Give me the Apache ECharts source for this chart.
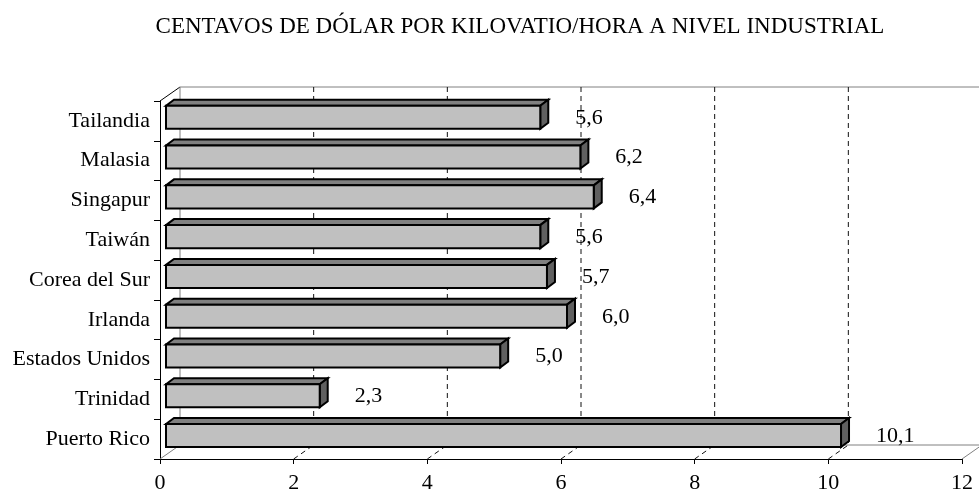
<!DOCTYPE html>
<html>
<head>
<meta charset="utf-8">
<title>Centavos de dólar por kilovatio/hora a nivel industrial</title>
<script src="https://cdn.jsdelivr.net/npm/echarts@6/dist/echarts.min.js"></script>
<style>html,body{margin:0;padding:0;background:#fff;}</style>
</head>
<body>
<div id="main" style="width:979px;height:493px;"></div>
<script>
// datos
var paises = ['Tailandia', 'Malasia', 'Singapur', 'Taiwán', 'Corea del Sur', 'Irlanda', 'Estados Unidos', 'Trinidad', 'Puerto Rico'];
var centavos = [5.6, 6.2, 6.4, 5.6, 5.7, 6.0, 5.0, 2.3, 10.1];
var ticksX = [0, 2, 4, 6, 8, 10, 12];

var FONT = '"Liberation Serif", "Times New Roman", serif';
var PX = 20, PY = -14;          // profundidad de paredes / suelo
var BX = 6, BDX = 8, BDY = -6;  // desplazamiento y fondo de las barras
var GRIS = '#808080';

function fmt(v) { return v.toFixed(1).replace('.', ','); }

function linea(x1, y1, x2, y2, color, dash) {
    return {
        type: 'line',
        shape: { x1: x1, y1: y1, x2: x2, y2: y2 },
        style: { stroke: color, lineWidth: 1, lineDash: dash || null }
    };
}

// paredes, suelo y lineas de division
function renderPared(params, api) {
    var cs = params.coordSys;
    var v = api.value(0);
    var x = api.coord([v, 0])[0];
    var top = cs.y, bot = cs.y + cs.height;
    var xMax = api.coord([ticksX[ticksX.length - 1], 0])[0];
    var hijos = [];
    if (v === ticksX[0]) {
        hijos.push(linea(x, top, x + PX, top + PY, '#000'));
        hijos.push(linea(x + PX, top + PY, x + PX, bot + PY, GRIS));
        hijos.push(linea(x + PX, top + PY, xMax + PX + 40, top + PY, GRIS));
        hijos.push(linea(x, bot, x + PX, bot + PY, GRIS));
        hijos.push(linea(x + PX, bot + PY, xMax + PX, bot + PY, GRIS));
    } else if (v === ticksX[ticksX.length - 1]) {
        hijos.push(linea(x, bot, x + PX, bot + PY, GRIS));
    } else {
        hijos.push(linea(x + PX, top + PY, x + PX, bot + PY, '#111', [5, 4]));
        hijos.push(linea(x, bot, x + PX, bot + PY, '#111', [5, 4]));
    }
    return { type: 'group', children: hijos };
}

// barras en 3D
function renderBarra(params, api) {
    var v = api.value(0), c = api.value(1);
    var p0 = api.coord([0, c]), p1 = api.coord([v, c]);
    var banda = api.size([0, 1])[1];
    var x0 = p0[0] + BX, x1 = p1[0] + BX;
    var yc = p0[1];
    var t = yc - banda * 0.38, b = yc + banda * 0.2;
    var borde = { stroke: '#000', lineWidth: 2, lineJoin: 'miter' };
    return {
        type: 'group',
        children: [
            { type: 'polygon', shape: { points: [[x0, t], [x0 + BDX, t + BDY], [x1 + BDX, t + BDY], [x1, t]] },
              style: Object.assign({ fill: '#808080' }, borde) },
            { type: 'polygon', shape: { points: [[x1, t], [x1 + BDX, t + BDY], [x1 + BDX, b + BDY], [x1, b]] },
              style: Object.assign({ fill: '#606060' }, borde) },
            { type: 'polygon', shape: { points: [[x0, t], [x1, t], [x1, b], [x0, b]] },
              style: Object.assign({ fill: '#c0c0c0' }, borde) },
            { type: 'text', style: { text: fmt(v), x: x1 + 35, y: yc - 3, fill: '#000',
              font: '22px ' + FONT, verticalAlign: 'middle', align: 'left' } }
        ]
    };
}

var option = {
    animation: false,
    backgroundColor: '#fff',
    title: {
        text: 'CENTAVOS DE DÓLAR POR KILOVATIO/HORA A NIVEL INDUSTRIAL',
        left: 515,
        top: 10,
        textAlign: 'center',
        textStyle: { fontFamily: FONT, fontSize: 23, fontWeight: 'normal', color: '#000' }
    },
    grid: { left: 160, right: 17, top: 101, bottom: 34, containLabel: false, outerBoundsMode: 'none' },
    xAxis: {
        type: 'value',
        min: 0,
        max: 12,
        interval: 2,
        axisLine: { show: true, lineStyle: { color: '#000', width: 1 } },
        axisTick: { show: true, length: 5, lineStyle: { color: '#000' } },
        axisLabel: { color: '#000', fontFamily: FONT, fontSize: 22, margin: 13, showMinLabel: true, showMaxLabel: true },
        splitLine: { show: false }
    },
    yAxis: {
        type: 'category',
        data: paises,
        inverse: true,
        axisLine: { show: true, lineStyle: { color: '#000', width: 1 } },
        axisTick: { show: true, length: 6, lineStyle: { color: '#000' } },
        axisLabel: { color: '#000', fontFamily: FONT, fontSize: 22, margin: 10 },
        splitLine: { show: false }
    },
    series: [
        {
            type: 'custom',
            renderItem: renderPared,
            data: ticksX.map(function (v) { return [v, 0]; }),
            encode: { x: 0, y: 1 },
            clip: false,
            silent: true,
            z: 1
        },
        {
            type: 'custom',
            renderItem: renderBarra,
            data: centavos.map(function (v, i) { return [v, i]; }),
            encode: { x: 0, y: 1 },
            clip: false,
            z: 2
        }
    ]
};

var myChart = echarts.init(document.getElementById('main'));
myChart.setOption(option);
</script>
</body>
</html>
